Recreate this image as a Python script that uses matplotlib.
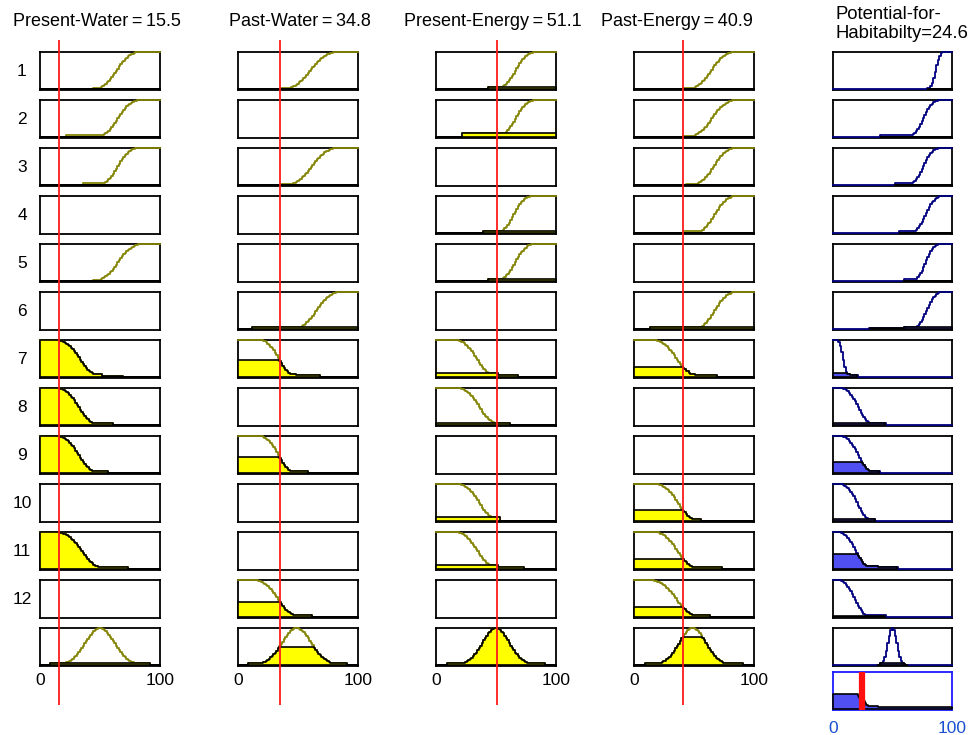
import numpy as np
import matplotlib
matplotlib.use("Agg")
import matplotlib.pyplot as plt

plt.rcParams['font.family'] = ['Liberation Sans', 'DejaVu Sans']

# ---------------- data ----------------
input_names = ['Present-Water', 'Past-Water', 'Present-Energy', 'Past-Energy']
input_values = [15.5, 34.8, 51.1, 40.9]
output_name = 'Potential-for-\nHabitabilty'
output_value = 24.6
rule_labels = ['1', '2', '3', '4', '5', '6', '7', '8', '9', '10', '11', '12', '']
x_tick_values = [0, 100]
x_tick_labels = ['0', '100']

# membership functions: (shape, p1, p2, [(plateau level, from, to), ...]); None = input not used
present_water_mfs = [
    ('S', 45, 83, [(0.03, 44, 100)]),
    ('S', 47, 83, [(0.04, 22, 100)]),
    ('S', 48, 82, [(0.04, 36, 100)]),
    None,
    ('S', 45, 85, [(0.03, 44, 100)]),
    None,
    ('Z', 14, 52, [(0.07, 0, 52), (0.03, 0, 69)]),
    ('Z', 14, 50, [(0.04, 0, 60)]),
    ('Z', 14, 50, [(0.04, 0, 57)]),
    None,
    ('Z', 14, 55, [(0.04, 0, 73)]),
    None,
    ('G', 50, 12, [(0.04, 8, 92)]),
]
past_water_mfs = [
    ('S', 38, 83, [(0.03, 36, 100)]),
    None,
    ('S', 40, 83, [(0.03, 36, 100)]),
    None,
    None,
    ('S', 46, 85, [(0.04, 12, 100)]),
    ('Z', 18, 50, [(0.08, 0, 48), (0.04, 0, 68)]),
    None,
    ('Z', 18, 49, [(0.04, 0, 58)]),
    None,
    None,
    ('Z', 14, 52, [(0.04, 0, 62)]),
    ('G', 49, 12, [(0.05, 8, 91)]),
]
present_energy_mfs = [
    ('S', 50, 83, [(0.05, 43, 100)]),
    ('S', 50, 83, [(0.11, 22, 100)]),
    None,
    ('S', 50, 80, [(0.05, 40, 100)]),
    ('S', 50, 82, [(0.05, 43, 100)]),
    None,
    ('Z', 16, 52, [(0.1, 0, 51.5), (0.05, 0, 68)]),
    ('Z', 18, 54, [(0.05, 0, 62)]),
    None,
    ('Z', 18, 54, [(0.1, 0, 53)]),
    ('Z', 16, 53, [(0.1, 0, 51.5), (0.05, 0, 73)]),
    None,
    ('G', 50, 11, [(0.05, 9, 91)]),
]
past_energy_mfs = [
    ('S', 45, 84, [(0.02, 41, 100)]),
    ('S', 45, 85, [(0.02, 41, 100)]),
    ('S', 48, 85, [(0.02, 43, 100)]),
    ('S', 50, 85, [(0.04, 41, 100)]),
    None,
    ('S', 50, 85, [(0.04, 13, 100)]),
    ('Z', 16, 55, [(0.15, 0, 45), (0.08, 0, 51), (0.04, 0, 69)]),
    None,
    None,
    ('Z', 18, 55, [(0.05, 0, 55)]),
    ('Z', 17, 55, [(0.04, 0, 73)]),
    ('Z', 14, 56, [(0.04, 0, 63)]),
    ('G', 49, 11, [(0.05, 9, 90)]),
]
output_mfs = [
    ('S', 80, 93, [(0.03, 79, 100)]),
    ('S', 62, 90, [(0.04, 40, 100)]),
    ('S', 62, 90, [(0.04, 52, 100)]),
    ('S', 64, 92, [(0.04, 56, 100)]),
    ('S', 66, 90, [(0.04, 60, 100)]),
    ('S', 66, 92, [(0.015, 31, 100), (0.04, 60, 100)]),
    ('Z', 3, 14, [(0.08, 0, 14), (0.04, 0, 21)]),
    ('Z', 6, 36, [(0.05, 0, 44)]),
    ('Z', 6, 36, [(0.05, 0, 39)]),
    ('Z', 6, 34, [(0.04, 0, 35)]),
    ('Z', 4, 34, [(0.08, 0, 38), (0.04, 0, 54)]),
    ('Z', 4, 32, [(0.05, 0, 44)]),
    ('G', 50, 3.6, [(0.04, 40, 59)]),
]
rule_firing = [0, 0, 0, 0, 0, 0.04, 0.1, 0.05, 0.3, 0.04, 0.4, 0.03, 0.04]

input_mfs = [present_water_mfs, past_water_mfs, present_energy_mfs, past_energy_mfs]


# ---------------- membership evaluation ----------------
def smf(x, a, b):
    x = np.asarray(x, float)
    m = (a + b) / 2.0
    y = np.zeros_like(x)
    i1 = (x > a) & (x <= m)
    i2 = (x > m) & (x < b)
    y[i1] = 2 * ((x[i1] - a) / (b - a)) ** 2
    y[i2] = 1 - 2 * ((x[i2] - b) / (b - a)) ** 2
    y[x >= b] = 1
    return y


def evaluate(spec, x):
    kind, p1, p2, tails = spec
    x = np.asarray(x, float)
    if kind == 'S':
        y = smf(x, p1, p2)
    elif kind == 'Z':
        y = 1 - smf(x, p1, p2)
    else:
        y = np.exp(-(x - p1) ** 2 / (2 * p2 ** 2))
    for lvl, s, e in tails:
        y = np.maximum(y, np.where((x >= s) & (x <= e), lvl, 0.0))
    return y


# ---------------- layout ----------------
W, H = 971, 735
fig = plt.figure(figsize=(W / 100, H / 100), dpi=100)

col_left = [40, 238, 436, 634, 833]
pw, ph = 120, 38
row_top = [52 + 48 * i for i in range(13)]
agg_top = 672


def add_ax(xl, yt, w, h):
    return fig.add_axes([xl / W, 1 - (yt + h) / H, w / W, h / H])


xg = np.linspace(0, 100, 81)
OLIVE = '#858505'
NAVY = '#000080'
FILLB = '#4f4ff2'
SP_LW = 1.3


def style(ax, edge='black'):
    ax.set_xlim(0, 100)
    ax.set_ylim(-0.03, 1.0)
    ax.set_xticks([])
    ax.set_yticks([])
    for s in ax.spines.values():
        s.set_linewidth(SP_LW)
        s.set_color(edge)


# input columns
for c in range(4):
    for r in range(13):
        ax = add_ax(col_left[c], row_top[r], pw, ph)
        style(ax)
        spec = input_mfs[c][r]
        if spec is not None:
            mf = evaluate(spec, xg)
            level = float(evaluate(spec, [input_values[c]])[0])
            ax.plot(xg, mf, color=OLIVE, lw=1.3, drawstyle='steps-mid',
                    clip_on=False, zorder=3)
            ax.fill_between(xg, 0, np.minimum(mf, level), step='mid',
                            facecolor='#ffff00', edgecolor='black', lw=1.2,
                            clip_on=False, zorder=4)
        if r == 12:
            ax.set_xticks(x_tick_values)
            ax.set_xticklabels(x_tick_labels, fontsize=12.5)
            ax.tick_params(axis='x', length=0, pad=5)

# output column
agg = np.zeros_like(xg)
for r in range(13):
    ax = add_ax(col_left[4], row_top[r], pw - 1, ph)
    style(ax)
    spec = output_mfs[r]
    mf = evaluate(spec, xg)
    clipped = np.minimum(mf, rule_firing[r])
    agg = np.maximum(agg, clipped)
    ax.plot(xg, mf, color=NAVY, lw=1.3, drawstyle='steps-mid',
            clip_on=False, zorder=3)
    ax.fill_between(xg, 0, clipped, where=mf > 1e-3, step='mid',
                    facecolor=FILLB, edgecolor='black', lw=1.2,
                    clip_on=False, zorder=4)

ax = add_ax(col_left[4], agg_top, pw - 1, ph)
style(ax, edge='#1a1aff')
ax.fill_between(xg, 0, agg, step='mid', facecolor=FILLB, edgecolor='black',
                lw=1.2, clip_on=False, zorder=4)
ax.axvline(output_value, ymin=0.05, ymax=0.95, color='#ff1010', lw=4.5, zorder=5)
ax.set_xticks(x_tick_values)
ax.set_xticklabels(x_tick_labels, fontsize=12.5, color='#1a50d0')
ax.tick_params(axis='x', length=0, pad=8)

# red input lines spanning all rows
for c in range(4):
    ov = add_ax(col_left[c], 40, pw, 665)
    ov.set_xlim(0, 100)
    ov.set_ylim(0, 1)
    ov.axis('off')
    ov.patch.set_alpha(0)
    ov.axvline(input_values[c], color='#ff1a1a', lw=1.3)

# rule labels
for r in range(13):
    fig.text(22 / W, 1 - (row_top[r] + ph / 2) / H, rule_labels[r],
             ha='center', va='center', fontsize=12.5)

# titles
title_cx = [97, 300, 493, 677]
for c in range(4):
    fig.text(title_cx[c] / W, 1 - 22 / H,
             f"{input_names[c]}\u2009=\u2009{input_values[c]}",
             ha='center', va='center', fontsize=13)
fig.text(835 / W, 1 - 6 / H, f"{output_name}={output_value}",
         ha='left', va='top', fontsize=13.3, linespacing=1.15)

fig.savefig('out.png', dpi=100)
